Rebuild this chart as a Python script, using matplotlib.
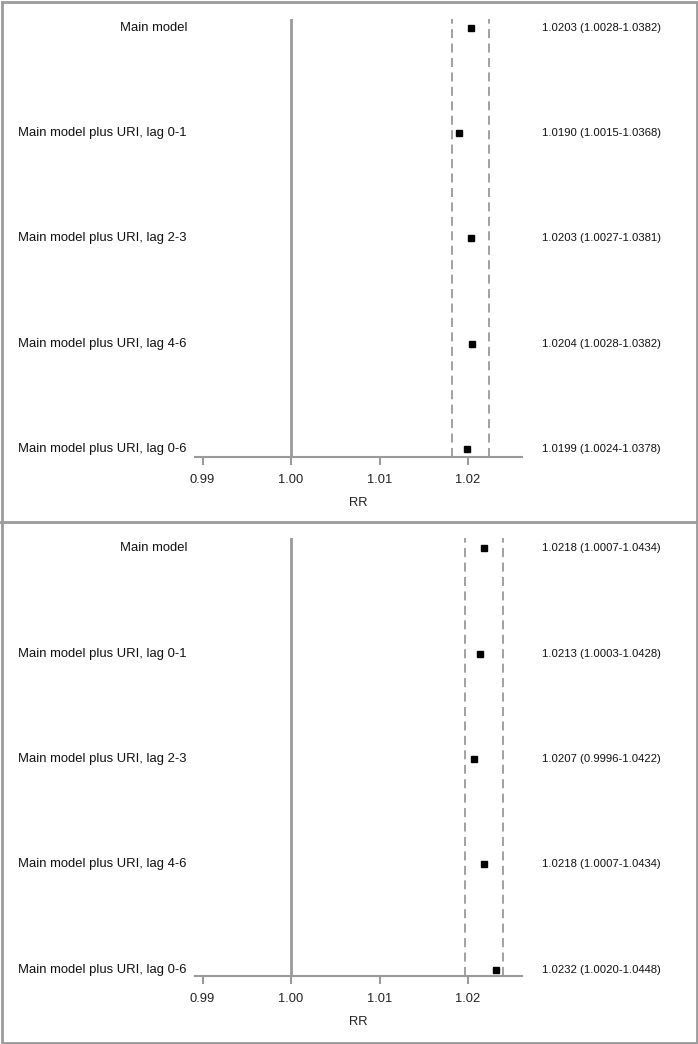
import matplotlib
matplotlib.use('Agg')
import matplotlib.pyplot as plt
import matplotlib.transforms as mtransforms
from matplotlib.patches import Rectangle
from matplotlib.lines import Line2D

plt.rcParams['font.family'] = ['Liberation Sans', 'DejaVu Sans']

# data
models = ['Main model', 'Main model plus URI, lag 0-1', 'Main model plus URI, lag 2-3',
          'Main model plus URI, lag 4-6', 'Main model plus URI, lag 0-6']

rr_top = [1.0203, 1.0190, 1.0203, 1.0204, 1.0199]
lo_top = [1.0028, 1.0015, 1.0027, 1.0028, 1.0024]
hi_top = [1.0382, 1.0368, 1.0381, 1.0382, 1.0378]
band_top = [1.0182, 1.0224]

rr_bot = [1.0218, 1.0213, 1.0207, 1.0218, 1.0232]
lo_bot = [1.0007, 1.0003, 0.9996, 1.0007, 1.0020]
hi_bot = [1.0434, 1.0428, 1.0422, 1.0434, 1.0448]
band_bot = [1.0197, 1.0240]

xticks = [0.99, 1.00, 1.01, 1.02]

W, H = 698, 1044
fig = plt.figure(figsize=(W / 100, H / 100), dpi=100)
grey = '#9a9a9a'

def px_box(left, top, right, bottom):
    return [left / W, 1 - bottom / H, (right - left) / W, (bottom - top) / H]

def panel(box, ylim, rr, lo, hi, band):
    ax = fig.add_axes(px_box(*box))
    ax.set_xlim(0.98915, 1.0261)
    ax.set_ylim(*ylim)
    for s in ['top', 'left', 'right']:
        ax.spines[s].set_visible(False)
    ax.spines['bottom'].set_color(grey)
    ax.spines['bottom'].set_linewidth(1.5)
    ax.set_yticks([])
    ax.set_xticks(xticks)
    ax.set_xticklabels(['%.2f' % t for t in xticks], fontsize=9.3, color='#222222')
    ax.tick_params(axis='x', length=6, width=1.5, color=grey, pad=6)
    ax.set_xlabel('RR', fontsize=9.3, color='#222222', labelpad=8)
    ax.axvline(1.0, color=grey, lw=2)
    for b in band:
        ax.axvline(b, color=grey, lw=1.3, ls=(0, (5, 3)))
    ys = list(range(len(rr)))
    ax.plot(rr, ys, 's', color='black', ms=4.5, clip_on=False)
    tr = mtransforms.blended_transform_factory(fig.transFigure, ax.transData)
    for y, name, r, l, h in zip(ys, models, rr, lo, hi):
        ax.text(187 / W, y, name, transform=tr, ha='right', va='center', fontsize=9.4, color='#111111')
        ax.text(542 / W, y, '%.4f (%.4f-%.4f)' % (r, l, h), transform=tr, ha='left',
                va='center', fontsize=8.1, color='#111111')
    return ax

panel((195, 19, 522, 457), (4.076, -0.0855), rr_top, lo_top, hi_top, band_top)
panel((195, 538, 522, 976), (4.057, -0.095), rr_bot, lo_bot, hi_bot, band_bot)

# frame and divider
fig.patches.append(Rectangle((1.5 / W, 1.5 / H), (W - 3) / W, (H - 3) / H, transform=fig.transFigure,
                             fill=False, edgecolor=grey, lw=2))
fig.lines.append(Line2D([0, 1], [1 - 522 / H, 1 - 522 / H], transform=fig.transFigure, color=grey, lw=2))

fig.savefig('out.png', dpi=100)
